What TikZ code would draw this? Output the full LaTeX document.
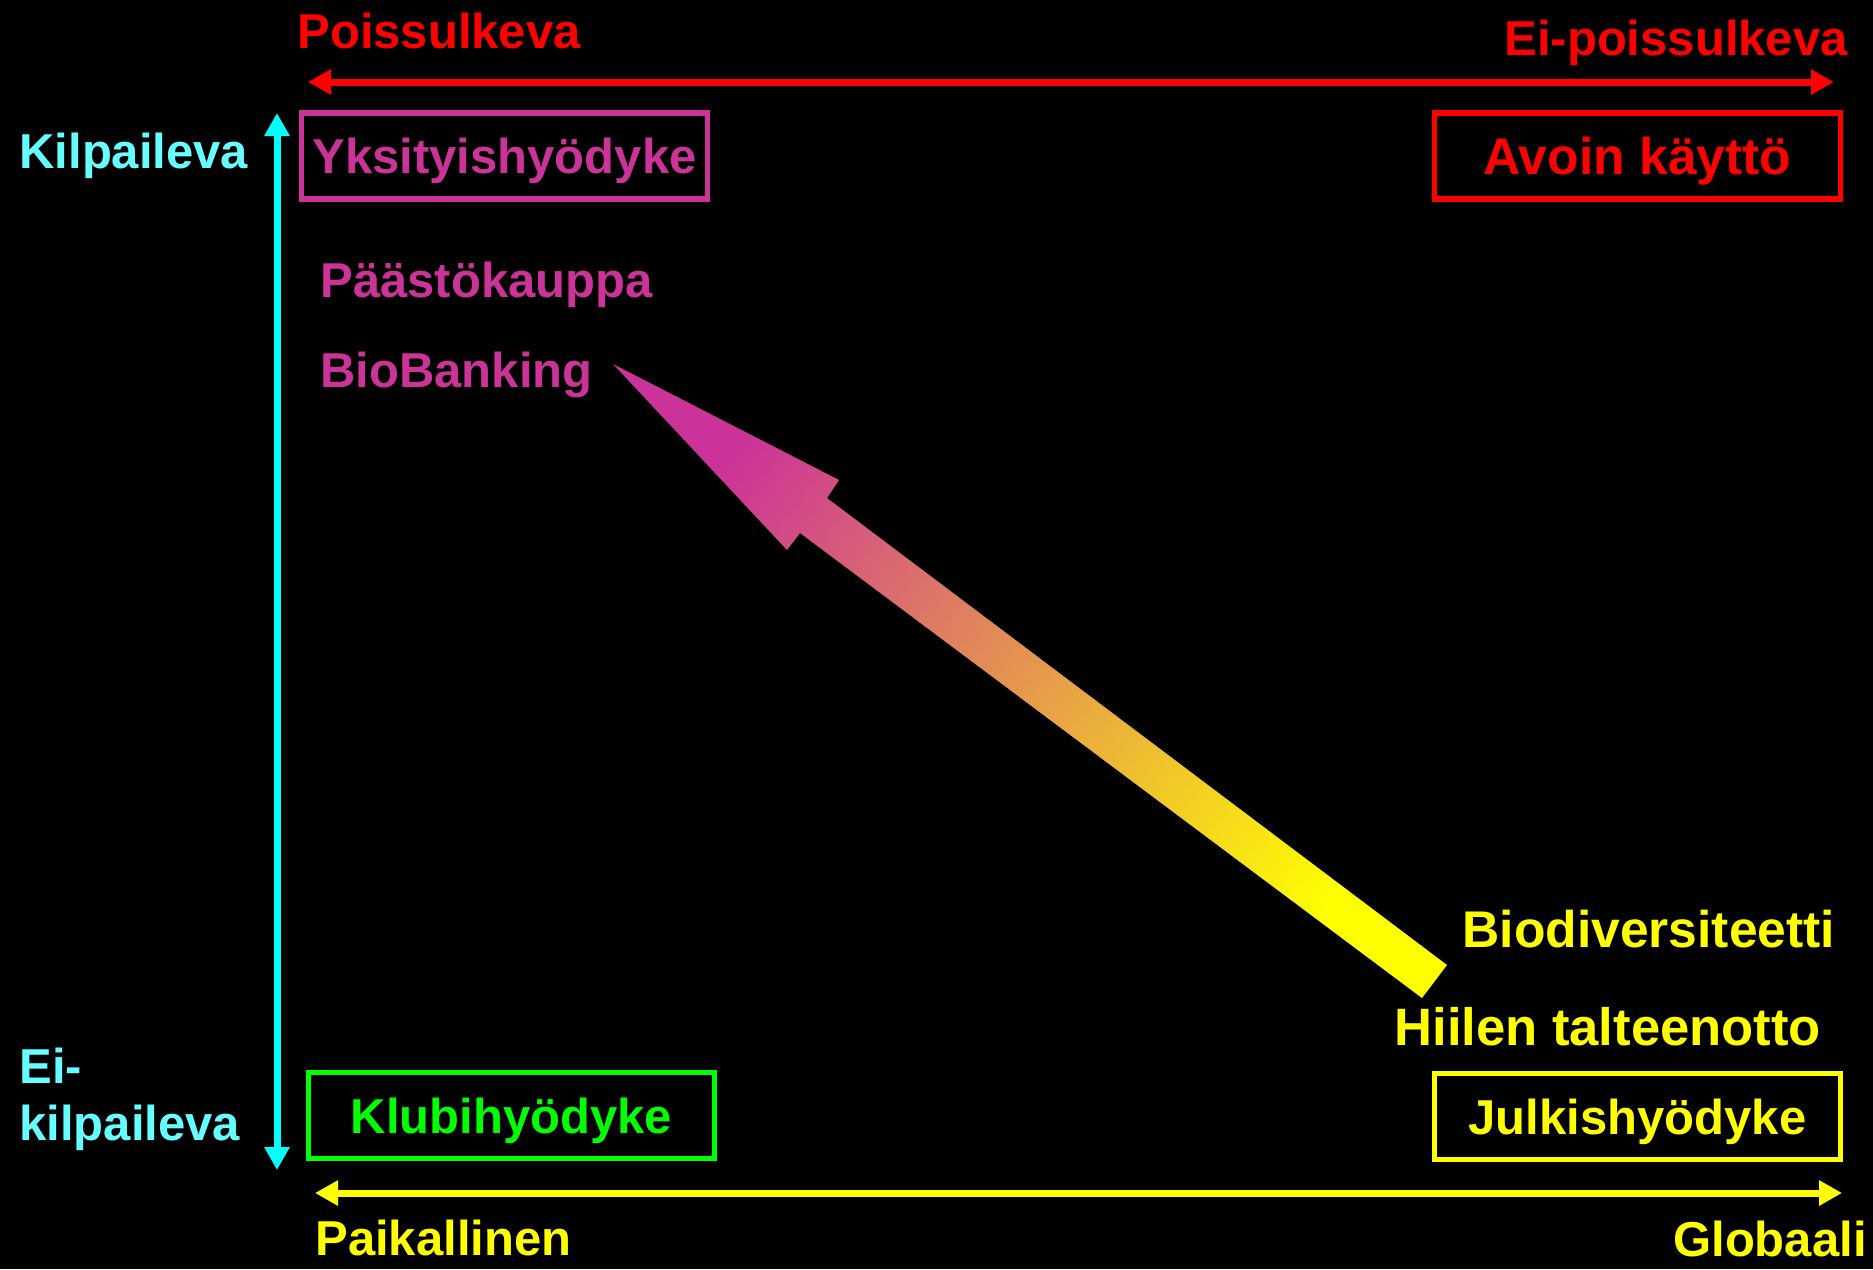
\documentclass[tikz,border=0pt]{standalone}
\usepackage{fontspec}
\setmainfont{Liberation Sans}
\usepackage{tikz}
\usetikzlibrary{arrows.meta, positioning}
\definecolor{hyored}{RGB}{255,0,0}
\definecolor{hyocyan}{RGB}{0,255,255}
\definecolor{hyolcyan}{RGB}{102,255,255}
\definecolor{hyomag}{RGB}{204,51,153}
\definecolor{hyogreen}{RGB}{0,255,0}
\definecolor{hyoyellow}{RGB}{255,255,0}

\begin{document}
\begin{tikzpicture}[x=0.5pt, y=-0.5pt,
  lbl/.style={font=\fontsize{24.5}{29}\selectfont\bfseries, inner sep=0pt},
  widelbl/.style={lbl, font=\fontsize{25.8}{30}\selectfont\bfseries},
  goodbox/.style={lbl, draw, line width=2.6pt, text depth=0pt, minimum width=203pt, minimum height=43pt},
  axisline/.style={line width=3.5pt, {Triangle[length=11.5pt,width=12pt]}-{Triangle[length=11.5pt,width=12pt]}}]
  \fill[black] (0,0) rectangle (1873,1269);
  \useasboundingbox (0,0) rectangle (1873,1269);

  % Exclusion axis
  \node[lbl, text=hyored, anchor=base west] (poiss) at (297,48) {Poissulkeva};
  \node[lbl, text=hyored, anchor=base east] (eipoiss) at (1848,55) {Ei-poissulkeva};
  \coordinate (redL) at (308,82);
  \coordinate (redR) at (1834,82);
  \draw[axisline, hyored] (redL) -- (redR);

  % Rivalry axis
  \node[lbl, text=hyolcyan, anchor=base west] (kilp) at (19,168) {Kilpaileva};
  \node[lbl, text=hyolcyan, anchor=base west] (eikilp1) at (19,1083) {Ei-};
  \node[lbl, text=hyolcyan, anchor=base west] (eikilp2) at (19,1140) {kilpaileva};
  \coordinate (cyT) at (277,113);
  \coordinate (cyB) at (277,1170);
  \draw[axisline, hyocyan] (cyT) -- (cyB);

  % Scale axis
  \node[lbl, text=hyoyellow, anchor=base west] (paik) at (315,1255) {Paikallinen};
  \node[lbl, text=hyoyellow, anchor=base east] (glob) at (1867,1256) {Globaali};
  \coordinate (yeL) at (315,1193);
  \coordinate (yeR) at (1842,1193);
  \draw[axisline, hyoyellow] (yeL) -- (yeR);

  % Four kinds of goods
  \node[goodbox, draw=hyomag, text=hyomag] (yksit) at (504.5,156) {Yksityishyödyke};
  \node[goodbox, draw=hyored, text=hyored, font=\fontsize{25.8}{30}\selectfont\bfseries] (avoin) at (1637.5,156) {Avoin käyttö};
  \node[goodbox, draw=hyogreen, text=hyogreen] (klubi) at (511.5,1115.5) {Klubihyödyke};
  \node[goodbox, draw=hyoyellow, text=hyoyellow] (julk) at (1637.5,1116.5) {Julkishyödyke};

  % Examples
  \node[lbl, text=hyomag, anchor=base west] (paasto) at (320,297) {Päästökauppa};
  \node[lbl, text=hyomag, anchor=base west] (biob) at (320,387) {BioBanking};
  \node[widelbl, text=hyoyellow, anchor=base west] (biodiv) at (1462,947) {Biodiversiteetti};
  \node[widelbl, text=hyoyellow, anchor=base west, font=\fontsize{26.3}{30}\selectfont\bfseries] (hiili) at (1394,1045) {Hiilen talteenotto};

  % Big shaded arrow
  \shade[bottom color=hyoyellow, top color=hyomag, shading angle=53]
    (1447,965) -- (827,498) -- (839,480) -- (613,364) -- (787,550) -- (800,533) -- (1422,998) -- cycle;
\end{tikzpicture}
\end{document}
